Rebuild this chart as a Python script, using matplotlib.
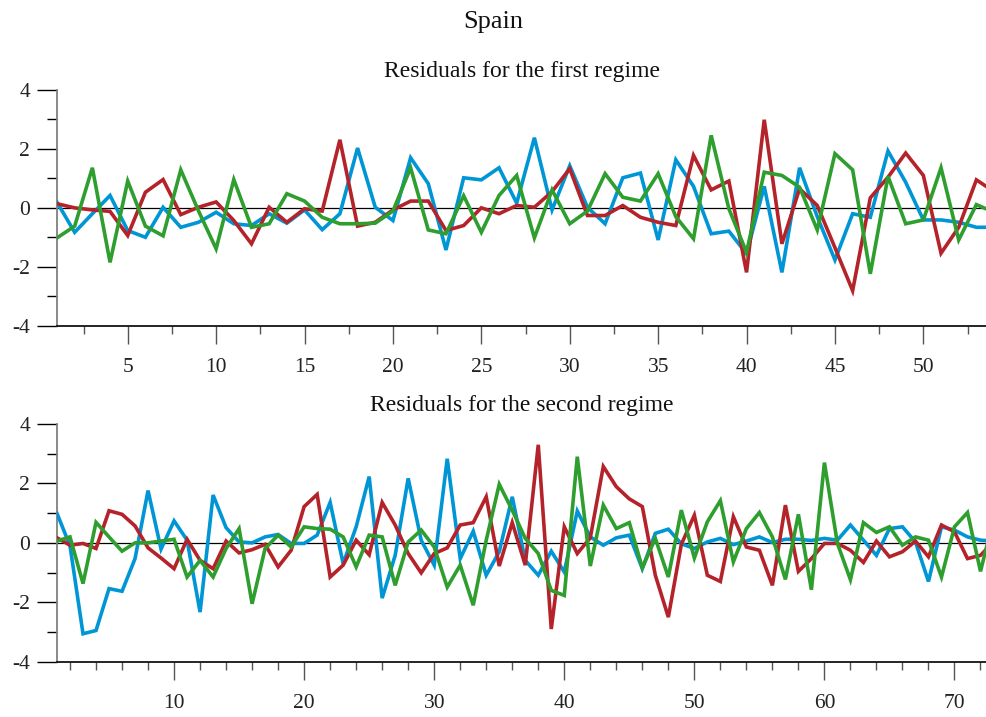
import matplotlib
matplotlib.use("Agg")
import matplotlib.pyplot as plt
from matplotlib.ticker import MultipleLocator
import numpy as np

plt.rcParams['font.family'] = ['Liberation Serif', 'DejaVu Serif']
plt.rcParams['axes.unicode_minus'] = False

fig_title = "Spain"
titles = ["Residuals for the first regime", "Residuals for the second regime"]

r1_blue = [0.19, -0.83, -0.2, 0.42, -0.77, -1.0, 0.02, -0.66, -0.49, -0.15,
           -0.54, -0.6, -0.2, -0.52, -0.07, -0.74, -0.2, 2.03, 0.02, -0.43,
           1.7, 0.82, -1.43, 1.02, 0.95, 1.36, 0.16, 2.38, -0.07, 1.43,
           0.02, -0.54, 1.02, 1.18, -1.09, 1.63, 0.73, -0.88, -0.79, -1.56,
           0.73, -2.19, 1.36, -0.3, -1.77, -0.2, -0.32, 1.93, 0.87, -0.41,
           -0.41, -0.49, -0.66, -0.66]
r1_red = [0.14, 0.0, -0.07, -0.12, -0.94, 0.53, 0.96, -0.23, 0.02, 0.2,
          -0.43, -1.22, 0.02, -0.49, -0.03, -0.11, 2.31, -0.62, -0.49, -0.07,
          0.23, 0.23, -0.77, -0.6, 0.0, -0.2, 0.08, 0.02, 0.55, 1.33,
          -0.26, -0.26, 0.08, -0.32, -0.49, -0.6, 1.78, 0.61, 0.91, -2.19,
          2.99, -1.22, 0.65, 0.08, -1.35, -2.81, 0.34, 1.04, 1.86, 1.1,
          -1.54, -0.66, 0.95, 0.55]
r1_green = [-1.02, -0.62, 1.36, -1.85, 0.91, -0.62, -0.95, 1.29, -0.1, -1.39,
            0.96, -0.66, -0.54, 0.48, 0.23, -0.32, -0.54, -0.54, -0.52, -0.11,
            1.36, -0.75, -0.88, 0.41, -0.83, 0.42, 1.1, -1.02, 0.61, -0.54,
            -0.11, 1.16, 0.36, 0.23, 1.16, -0.3, -1.05, 2.46, -0.03, -1.51,
            1.21, 1.1, 0.7, -0.75, 1.84, 1.29, -2.24, 1.07, -0.54, -0.41,
            1.36, -1.09, 0.11, -0.15]

r2_blue = [0.99, -0.1, -3.06, -2.95, -1.54, -1.63, -0.53, 1.76, -0.21, 0.74,
           0.09, -2.33, 1.61, 0.51, 0.03, 0.0, 0.2, 0.28, -0.02, -0.02,
           0.26, 1.36, -0.7, 0.54, 2.23, -1.86, -0.42, 2.17, 0.09, -0.75,
           2.83, -0.53, 0.39, -1.09, -0.3, 1.55, -0.59, -1.09, -0.28, -0.98,
           1.07, 0.2, -0.08, 0.17, 0.26, -0.87, 0.32, 0.46, -0.03, -0.19,
           0.03, 0.15, -0.06, 0.06, 0.2, 0.01, 0.12, 0.12, 0.08, 0.15,
           0.09, 0.6, 0.09, -0.42, 0.48, 0.54, 0.03, -1.3, 0.54, 0.43,
           0.2, 0.09, 0.06]
r2_red = [0.17, -0.08, -0.02, -0.19, 1.08, 0.96, 0.57, -0.17, -0.51, -0.87,
          0.12, -0.59, -0.87, 0.06, -0.34, -0.23, -0.05, -0.81, -0.25, 1.22,
          1.63, -1.15, -0.75, 0.09, -0.4, 1.36, 0.6, -0.36, -1.01, -0.36,
          -0.17, 0.6, 0.68, 1.55, -0.78, 0.68, -0.75, 3.3, -2.9, 0.54,
          -0.36, 0.17, 2.57, 1.89, 1.48, 1.22, -1.09, -2.5, -0.05, 0.93,
          -1.09, -1.3, 0.88, -0.14, -0.25, -1.43, 1.27, -0.96, -0.53, -0.02,
          -0.02, -0.25, -0.66, 0.06, -0.47, -0.3, 0.06, -0.47, 0.6, 0.37,
          -0.53, -0.42, 0.03]
r2_green = [0.06, 0.2, -1.37, 0.69, 0.2, -0.28, 0.0, 0.0, 0.06, 0.12,
            -1.15, -0.59, -1.15, -0.19, 0.48, -2.05, -0.19, 0.26, -0.14, 0.54,
            0.48, 0.46, 0.2, -0.81, 0.26, 0.2, -1.43, 0.03, 0.43, -0.14,
            -1.49, -0.75, -2.1, 0.09, 1.97, 1.1, 0.15, -0.36, -1.6, -1.77,
            2.9, -0.78, 1.27, 0.48, 0.68, -0.84, 0.15, -1.15, 1.1, -0.51,
            0.71, 1.42, -0.64, 0.48, 1.02, 0.2, -1.23, 0.96, -1.58, 2.7,
            -0.02, -1.24, 0.68, 0.35, 0.54, -0.08, 0.2, 0.09, -1.15, 0.54,
            1.02, -0.96, 0.8]

colors = ["#0096D6", "#B5232A", "#2E9E2E"]

fig = plt.figure(figsize=(9.87, 7.17), dpi=100)
ax1 = fig.add_axes([57/987, 1 - 325.7/717, 1 - 57/987, (325.7 - 90)/717])
ax2 = fig.add_axes([57/987, 1 - 661.7/717, 1 - 57/987, (661.7 - 424)/717])

panels = [
    (ax1, [r1_blue, r1_red, r1_green], 53.6, 5, 2.5, titles[0]),
    (ax2, [r2_blue, r2_red, r2_green], 72.5, 10, 2, titles[1]),
]

for ax, series, xmax, major, minor, title in panels:
    for s, c in zip(series, colors):
        x = np.arange(1, len(s) + 1)
        ax.plot(x, s, color=c, lw=2.6, solid_joinstyle='miter', zorder=3)
    ax.axhline(0, color='black', lw=0.9, zorder=2)
    ax.set_xlim(1, xmax)
    ax.set_ylim(-4, 4)
    ax.spines['top'].set_visible(False)
    ax.spines['right'].set_visible(False)
    ax.spines['left'].set_color('#808080')
    ax.spines['left'].set_linewidth(1.3)
    ax.spines['bottom'].set_color('black')
    ax.spines['bottom'].set_linewidth(1.2)
    ax.xaxis.set_major_locator(MultipleLocator(major))
    ax.xaxis.set_minor_locator(MultipleLocator(minor))
    ax.yaxis.set_major_locator(MultipleLocator(2))
    ax.yaxis.set_minor_locator(MultipleLocator(1))
    ax.tick_params(axis='x', which='major', direction='out', length=13, width=1,
                   color='#555555', pad=10, labelsize=15.5, labelcolor='#222222')
    ax.tick_params(axis='x', which='minor', direction='out', length=6, width=1,
                   color='#555555')
    ax.tick_params(axis='y', which='major', direction='out', length=14.5, width=1,
                   color='black', pad=5, labelsize=15.5, labelcolor='#222222')
    ax.tick_params(axis='y', which='minor', direction='out', length=7, width=1,
                   color='black')
    ax.set_title(title, fontsize=17, pad=9, color='#111111')

fig.suptitle(fig_title, fontsize=19, x=0.5, y=0.985, color='#111111')

fig.savefig("out.png", dpi=100)
